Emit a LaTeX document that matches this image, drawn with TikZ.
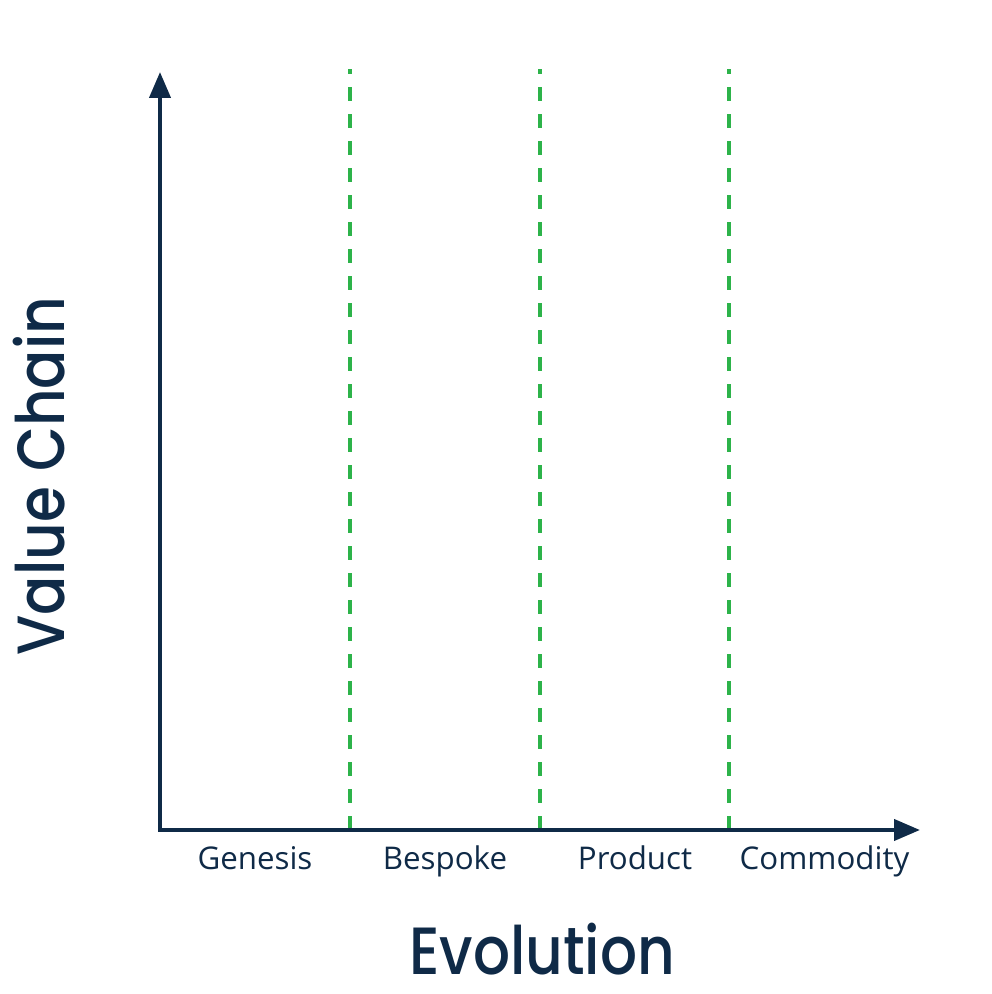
\documentclass[tikz,border=0pt]{standalone}
\usepackage{fontspec}
\setmainfont{Open Sans}
\newfontfamily\titlefont{Poppins}[UprightFont=* Medium,FakeStretch=0.87]
\usepackage{tikz}
\usetikzlibrary{arrows.meta}

\begin{document}
\begin{tikzpicture}
  \definecolor{axisblue}{HTML}{0F2A47};
  \definecolor{stageline}{HTML}{2DB34A};
  \tikzstyle{axis}=[draw=axisblue,line width=2.3pt,line join=miter]
  \tikzstyle{divider}=[draw=stageline,line width=2.2pt,dash pattern=on 0.27cm off 0.27cm]
  \tikzstyle{stage}=[text=axisblue,inner sep=0pt,anchor=base,
    font=\fontsize{17.8}{21}\selectfont]
  \tikzstyle{title}=[text=axisblue,inner sep=0pt,anchor=base,text depth=0pt,
    font=\titlefont\fontsize{38}{46}\selectfont]
  \useasboundingbox (0,0) rectangle (19.84,19.88);
  \fill[white] (0,0) rectangle (19.84,19.88);
  % axes
  \coordinate (origin) at (3.2,3.28);
  \coordinate (ytop) at (3.2,18.44);
  \coordinate (xend) at (18.4,3.28);
  % stage boundaries
  \foreach \x [count=\i] in {7.0,10.8,14.58} {
    \coordinate (low\i) at (\x,3.28);
    \coordinate (high\i) at (\x,18.5);
    \draw[divider] (low\i) -- (high\i);
  }
  \draw[axis,{Triangle[length=0.52cm,width=0.42cm]}-{Triangle[length=0.52cm,width=0.42cm]}]
    (ytop) -- (origin) -- (xend);
  % stage labels
  \foreach \name/\x in {Genesis/5.1,Bespoke/8.9,Product/12.7,Commodity/16.49}
    \node[stage] (\name) at (\x,2.48) {\name};
  % axis titles
  \node[title] (evolution) at (10.84,0.38) {Evolution};
  \node[title,rotate=90] (valuechain) at (1.3,10.36) {Value Chain};
\end{tikzpicture}
\end{document}
